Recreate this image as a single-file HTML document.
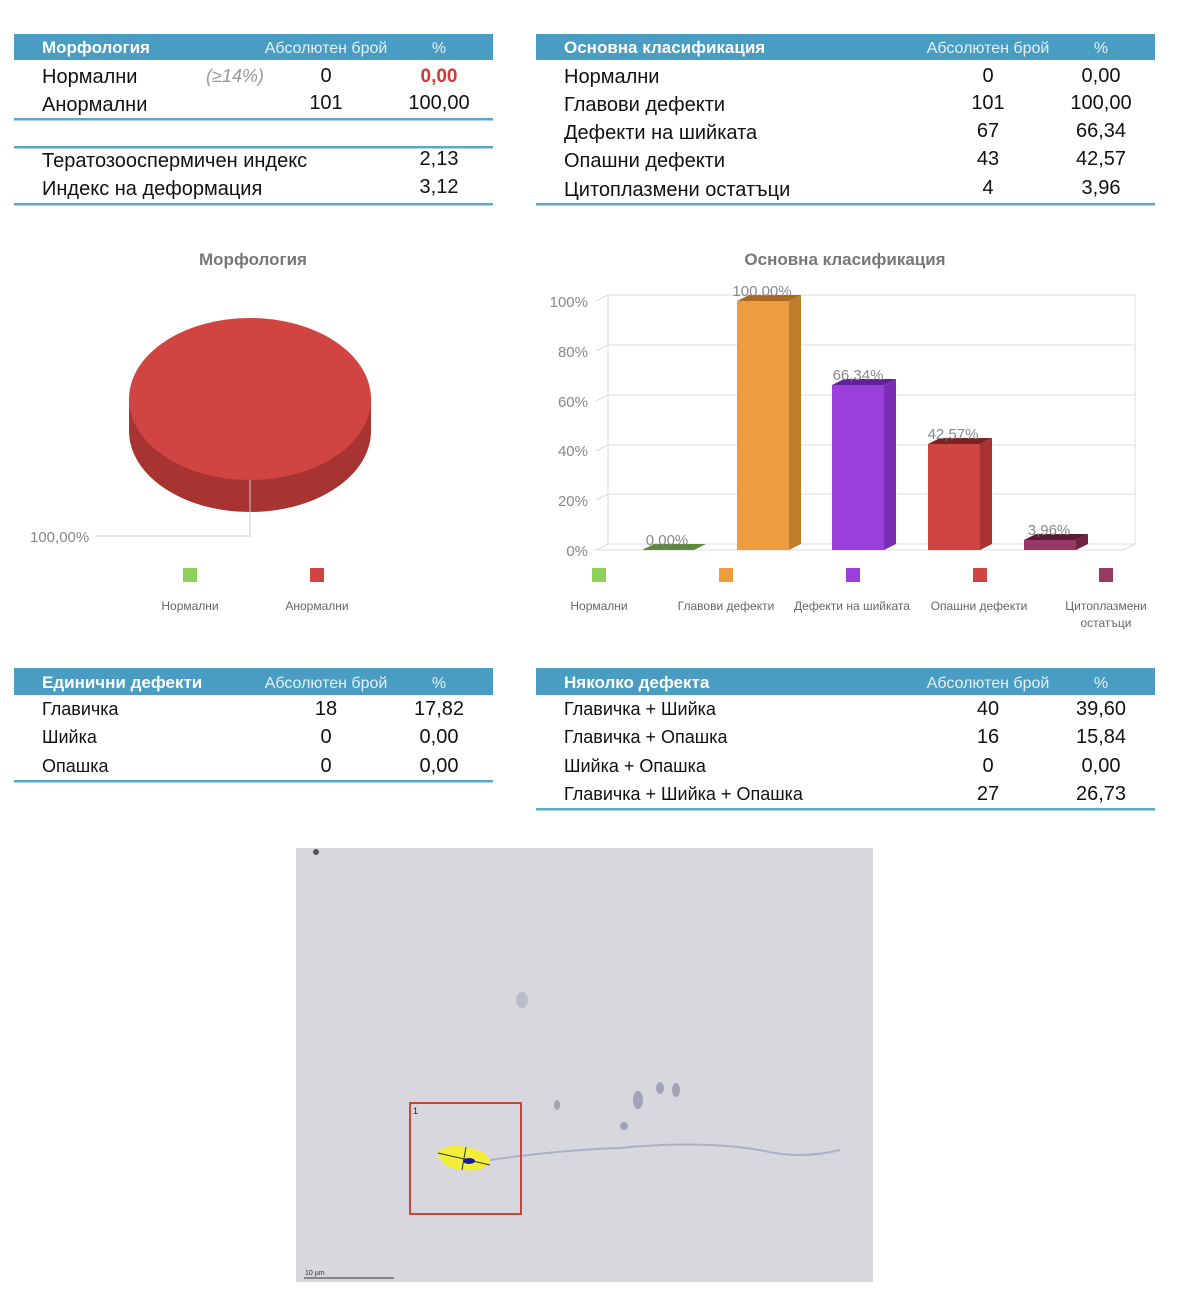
<!DOCTYPE html>
<html><head><meta charset="utf-8"><style>
body{margin:0;background:#fff;}
svg{display:block;font-family:"Liberation Sans",sans-serif;}
</style></head><body>
<svg width="1179" height="1309" viewBox="0 0 1179 1309">
<defs>
<style>
.h{fill:#fff;font-weight:bold;font-size:17px}
.hc{fill:#e4f1f7;font-size:16px}
.r{fill:#111;font-size:20px}
.ax{fill:#888;font-size:15px}
.lg{fill:#666;font-size:12px}
.g{stroke:#ddd;stroke-width:1;fill:none}
</style>
</defs>
<!-- Table 1 -->
<rect x="14" y="34" width="479" height="26" fill="#4a9dc2"/>
<text x="42" y="53" class="h">Морфология</text>
<text x="326" y="53" class="hc" text-anchor="middle">Абсолютен брой</text>
<text x="439" y="53" class="hc" text-anchor="middle">%</text>
<text x="42" y="83" class="r">Нормални</text>
<text x="206" y="82" font-size="18" fill="#999" font-style="italic">(≥14%)</text>
<text x="326" y="82" class="r" text-anchor="middle" font-size="19">0</text>
<text x="439" y="82" text-anchor="middle" font-size="19" font-weight="bold" fill="#d03a36">0,00</text>
<text x="42" y="111" class="r">Анормални</text>
<text x="326" y="109" class="r" text-anchor="middle" font-size="19">101</text>
<text x="439" y="109" class="r" text-anchor="middle" font-size="19">100,00</text>
<rect x="14" y="118" width="479" height="2.5" fill="#5aa8c8"/>
<rect x="14" y="146" width="479" height="2.5" fill="#5aa8c8"/>
<text x="42" y="167" class="r">Тератозооспермичен индекс</text>
<text x="439" y="165" class="r" text-anchor="middle" font-size="19">2,13</text>
<text x="42" y="195" class="r">Индекс на деформация</text>
<text x="439" y="193" class="r" text-anchor="middle" font-size="19">3,12</text>
<rect x="14" y="203" width="479" height="2.5" fill="#5aa8c8"/>

<!-- Table 2 -->
<rect x="536" y="34" width="619" height="26" fill="#4a9dc2"/>
<text x="564" y="53" class="h">Основна класификация</text>
<text x="988" y="53" class="hc" text-anchor="middle">Абсолютен брой</text>
<text x="1101" y="53" class="hc" text-anchor="middle">%</text>
<g class="r">
<text x="564" y="83">Нормални</text>
<text x="564" y="111">Главови дефекти</text>
<text x="564" y="139">Дефекти на шийката</text>
<text x="564" y="167">Опашни дефекти</text>
<text x="564" y="196">Цитоплазмени остатъци</text>
</g>
<g class="r" text-anchor="middle" font-size="19">
<text x="988" y="82">0</text><text x="1101" y="82">0,00</text>
<text x="988" y="109">101</text><text x="1101" y="109">100,00</text>
<text x="988" y="137">67</text><text x="1101" y="137">66,34</text>
<text x="988" y="165">43</text><text x="1101" y="165">42,57</text>
<text x="988" y="194">4</text><text x="1101" y="194">3,96</text>
</g>
<rect x="536" y="203" width="619" height="2.5" fill="#5aa8c8"/>

<!-- Pie -->
<text x="253" y="265" text-anchor="middle" font-size="17" font-weight="bold" fill="#777">Морфология</text>
<path d="M129 399 L129 431 A121 81 0 0 0 371 431 L371 399 Z" fill="#a83432"/>
<ellipse cx="250" cy="399" rx="121" ry="81" fill="#d04441"/>
<polyline points="95,536 250,536 250,480" fill="none" stroke="#ccc" stroke-width="1"/>
<text x="30" y="542" font-size="15" fill="#888">100,00%</text>
<rect x="183" y="568" width="14" height="14" fill="#8fd05a"/>
<rect x="310" y="568" width="14" height="14" fill="#d04441"/>
<text x="190" y="610" class="lg" text-anchor="middle">Нормални</text>
<text x="317" y="610" class="lg" text-anchor="middle">Анормални</text>

<!-- Bar chart -->
<text x="845" y="265" text-anchor="middle" font-size="17" font-weight="bold" fill="#777">Основна класификация</text>
<g class="g">
<line x1="608" y1="295" x2="608" y2="545"/>
<line x1="1135" y1="295" x2="1135" y2="545"/>
<line x1="608" y1="295" x2="1135" y2="295"/>
<line x1="608" y1="345" x2="1135" y2="345"/>
<line x1="608" y1="395" x2="1135" y2="395"/>
<line x1="608" y1="445" x2="1135" y2="445"/>
<line x1="608" y1="494" x2="1135" y2="494"/>
<line x1="608" y1="544" x2="1135" y2="544"/>
<line x1="596" y1="301" x2="608" y2="295"/>
<line x1="596" y1="351" x2="608" y2="345"/>
<line x1="596" y1="401" x2="608" y2="395"/>
<line x1="596" y1="451" x2="608" y2="445"/>
<line x1="596" y1="500" x2="608" y2="494"/>
<line x1="596" y1="550" x2="608" y2="544"/>
<line x1="596" y1="550" x2="1123" y2="550"/>
<line x1="1123" y1="550" x2="1135" y2="544"/>
</g>
<g class="ax" text-anchor="end">
<text x="588" y="307">100%</text>
<text x="588" y="357">80%</text>
<text x="588" y="407">60%</text>
<text x="588" y="456">40%</text>
<text x="588" y="506">20%</text>
<text x="588" y="556">0%</text>
</g>
<!-- green flat -->
<polygon points="642,550 694,550 706,544 654,544" fill="#5a8a3a"/>
<text x="667" y="545" class="ax" text-anchor="middle">0,00%</text>
<!-- orange -->
<polygon points="789,301 801,295 801,544 789,550" fill="#c07e2c"/>
<polygon points="737,301 789,301 801,295 749,295" fill="#a86a22"/>
<rect x="737" y="301" width="52" height="249" fill="#ed9d3f"/>
<text x="762" y="296" class="ax" text-anchor="middle">100,00%</text>
<!-- purple -->
<polygon points="884,385 896,379 896,544 884,550" fill="#7b2db5"/>
<polygon points="832,385 884,385 896,379 844,379" fill="#62209a"/>
<rect x="832" y="385" width="52" height="165" fill="#9b3fdc"/>
<text x="858" y="380" class="ax" text-anchor="middle">66,34%</text>
<!-- red -->
<polygon points="980,444 992,438 992,544 980,550" fill="#a83432"/>
<polygon points="928,444 980,444 992,438 940,438" fill="#7c2322"/>
<rect x="928" y="444" width="52" height="106" fill="#d04441"/>
<text x="953" y="439" class="ax" text-anchor="middle">42,57%</text>
<!-- maroon -->
<polygon points="1076,540 1088,534 1088,544 1076,550" fill="#70243f"/>
<polygon points="1024,540 1076,540 1088,534 1036,534" fill="#5a1c33"/>
<rect x="1024" y="540" width="52" height="10" fill="#973963"/>
<text x="1049" y="535" class="ax" text-anchor="middle">3,96%</text>
<!-- legend -->
<rect x="592" y="568" width="14" height="14" fill="#8fd05a"/>
<rect x="719" y="568" width="14" height="14" fill="#ed9d3f"/>
<rect x="846" y="568" width="14" height="14" fill="#9b3fdc"/>
<rect x="973" y="568" width="14" height="14" fill="#d04441"/>
<rect x="1099" y="568" width="14" height="14" fill="#973963"/>
<g class="lg" text-anchor="middle">
<text x="599" y="610">Нормални</text>
<text x="726" y="610">Главови дефекти</text>
<text x="852" y="610">Дефекти на шийката</text>
<text x="979" y="610">Опашни дефекти</text>
<text x="1106" y="610">Цитоплазмени</text>
<text x="1106" y="627">остатъци</text>
</g>

<!-- Table 3 -->
<rect x="14" y="668" width="479" height="27" fill="#4a9dc2"/>
<text x="42" y="688" class="h">Единични дефекти</text>
<text x="326" y="688" class="hc" text-anchor="middle">Абсолютен брой</text>
<text x="439" y="688" class="hc" text-anchor="middle">%</text>
<g font-size="18" fill="#111">
<text x="42" y="715">Главичка</text>
<text x="42" y="743">Шийка</text>
<text x="42" y="772">Опашка</text>
</g>
<g class="r" text-anchor="middle" font-size="19">
<text x="326" y="715">18</text><text x="439" y="715">17,82</text>
<text x="326" y="743">0</text><text x="439" y="743">0,00</text>
<text x="326" y="772">0</text><text x="439" y="772">0,00</text>
</g>
<rect x="14" y="780" width="479" height="2.5" fill="#5aa8c8"/>

<!-- Table 4 -->
<rect x="536" y="668" width="619" height="27" fill="#4a9dc2"/>
<text x="564" y="688" class="h">Няколко дефекта</text>
<text x="988" y="688" class="hc" text-anchor="middle">Абсолютен брой</text>
<text x="1101" y="688" class="hc" text-anchor="middle">%</text>
<g font-size="18" fill="#111">
<text x="564" y="715">Главичка + Шийка</text>
<text x="564" y="743">Главичка + Опашка</text>
<text x="564" y="772">Шийка + Опашка</text>
<text x="564" y="800">Главичка + Шийка + Опашка</text>
</g>
<g class="r" text-anchor="middle" font-size="19">
<text x="988" y="715">40</text><text x="1101" y="715">39,60</text>
<text x="988" y="743">16</text><text x="1101" y="743">15,84</text>
<text x="988" y="772">0</text><text x="1101" y="772">0,00</text>
<text x="988" y="800">27</text><text x="1101" y="800">26,73</text>
</g>
<rect x="536" y="808" width="619" height="2.5" fill="#5aa8c8"/>

<!-- Micrograph -->
<rect x="296" y="848" width="577" height="434" fill="#d7d7dd"/>
<circle cx="316" cy="852" r="3" fill="#555"/>
<path d="M490 1160 Q560 1150 620 1148 Q700 1140 760 1150 Q800 1160 840 1150" stroke="#aab0c8" stroke-width="2" fill="none"/>
<g fill="#8890a8" opacity="0.7">
<ellipse cx="638" cy="1100" rx="5" ry="9"/>
<ellipse cx="660" cy="1088" rx="4" ry="6"/>
<ellipse cx="676" cy="1090" rx="4" ry="7"/>
<ellipse cx="557" cy="1105" rx="3" ry="5"/>
<ellipse cx="624" cy="1126" rx="4" ry="4"/>
<ellipse cx="522" cy="1000" rx="6" ry="8" opacity="0.5"/>
</g>
<rect x="410" y="1103" width="111" height="111" fill="none" stroke="#c8443c" stroke-width="2"/>
<text x="413" y="1114" font-size="9" fill="#222">1</text>
<path d="M438 1152 Q448 1142 470 1148 Q490 1152 490 1162 Q486 1172 462 1170 Q440 1168 438 1152Z" fill="#f2ee3a"/>
<line x1="438" y1="1153" x2="490" y2="1165" stroke="#333" stroke-width="1"/>
<line x1="466" y1="1147" x2="462" y2="1170" stroke="#333" stroke-width="1"/>
<ellipse cx="469" cy="1161" rx="6" ry="3" fill="#1a1a9a"/>
<line x1="304" y1="1278" x2="394" y2="1278" stroke="#333" stroke-width="1"/>
<text x="305" y="1275" font-size="7" fill="#333">10 µm</text>
</svg>
</body></html>
